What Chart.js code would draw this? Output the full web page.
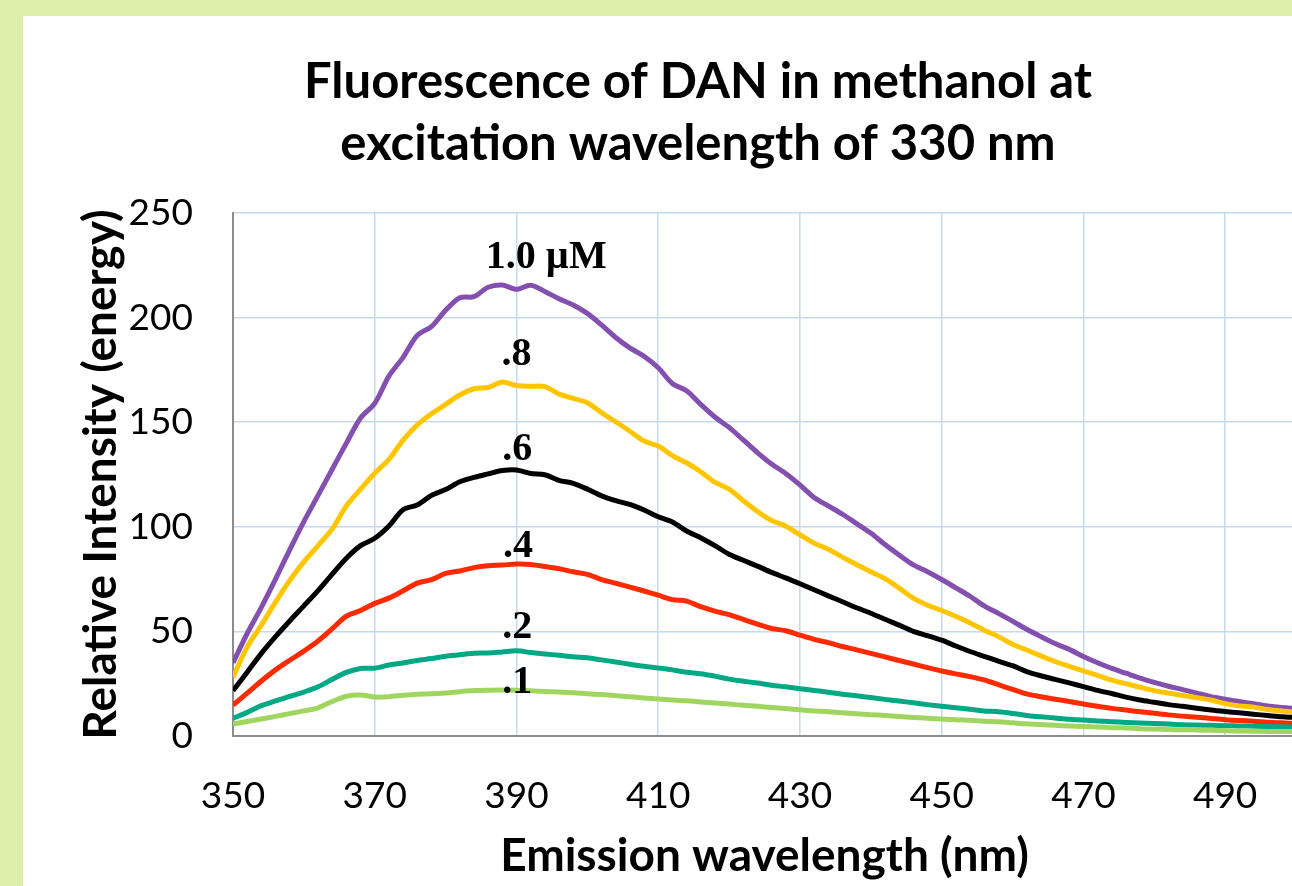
<!DOCTYPE html>
<html>
<head>
<meta charset="utf-8">
<script src="https://cdn.jsdelivr.net/npm/chart.js@4.4.1/dist/chart.umd.min.js"></script>
<style>
  html, body { margin: 0; padding: 0; overflow: hidden; background: #dbeeaa; }
  #wrap { position: absolute; left: 0; top: 0; width: 1396px; height: 886px; }
</style>
</head>
<body>
<div id="wrap"><canvas id="c" width="1396" height="886"></canvas></div>
<script>
// ---------- data ----------
const wavelengths = [
  350,352,354,356,358,360,362,364,366,368,
  370,372,374,376,378,380,382,384,386,388,
  390,392,394,396,398,400,402,404,406,408,
  410,412,414,416,418,420,422,424,426,428,
  430,432,434,436,438,440,442,444,446,448,
  450,452,454,456,458,460,462,464,466,468,
  470,472,474,476,478,480,482,484,486,488,
  490,492,494,496,498,500];

const conc10 = [
  35, 49, 61.5, 75, 89, 102.5, 115, 127.5, 140, 152,
  159, 172, 181, 191.5, 195.7, 203.5, 209.5, 210, 214.5, 215.6,
  213.5, 215.5, 212.5, 209, 206, 202, 196.5, 190.5, 185.5, 181.5,
  176, 168.5, 165, 158.5, 152.5, 147.5, 141.5, 135.5, 130, 125.5,
  120, 114, 110, 106, 101.5, 97, 91.5, 86.5, 81.8, 78.5,
  74.8, 70.8, 66.8, 62.2, 58.6, 54.9, 51, 47.5, 44.2, 41.4,
  38, 35, 32.3, 30, 27.7, 25.6, 23.8, 22.2, 20.5, 18.8,
  17.6, 16.5, 15.4, 14.3, 13.6, 13.2];

const conc08 = [
  28, 42.5, 53, 64, 74.3, 83.2, 91, 99, 110, 118,
  125.6, 132.2, 141.4, 148.7, 154, 158.5, 163, 166, 166.6, 169.2,
  167.5, 167.2, 167, 163.5, 161.4, 159.3, 154.6, 150.2, 145.7, 141,
  138.6, 134, 130.6, 126.3, 121.3, 118, 112.5, 107.3, 103, 100.3,
  96.2, 92.2, 89.3, 85.5, 82, 78.5, 75.2, 70.7, 65.9, 62.5,
  60, 57.2, 54, 50.6, 47.5, 43.9, 41.1, 38.3, 35.6, 33.3,
  31.1, 29, 26.7, 25, 23.3, 21.7, 20.5, 19.4, 18.3, 17.2,
  15.5, 14.4, 13.8, 12.7, 11.9, 11.3];

const conc06 = [
  21.7, 30.5, 39.5, 47.5, 55, 62.2, 69.5, 77.4, 85, 91,
  94.5, 100.4, 108.2, 110.4, 115, 117.8, 121.5, 123.6, 125.3, 126.9,
  127.2, 125.5, 124.9, 122.2, 120.8, 118, 114.8, 112.5, 110.7, 108,
  104.8, 102.3, 98, 94.8, 91, 86.9, 84, 81.2, 78.2, 75.6,
  72.8, 69.9, 67, 64.2, 61.3, 58.7, 55.8, 53, 50, 48,
  45.8, 43, 40.4, 38.1, 35.8, 33.6, 30.8, 28.8, 27.1, 25.4,
  23.6, 21.8, 20.3, 18.6, 17.2, 16.1, 15, 14.2, 13.3, 12.4,
  11.7, 11.1, 10.4, 9.8, 9.2, 8.8];

const conc04 = [
  14.8, 20.5, 26.3, 31.6, 36.2, 40.6, 45.4, 51.3, 57.3, 60,
  63.4, 65.9, 69.4, 73.1, 74.7, 77.7, 78.9, 80.5, 81.4, 81.7,
  82.2, 82, 81, 80, 78.5, 77.3, 74.8, 73, 71.2, 69.3,
  67.3, 65.2, 64.5, 61.8, 59.7, 58, 55.7, 53.5, 51.4, 50.3,
  48.2, 46.2, 44.6, 42.8, 41.2, 39.5, 37.8, 36.1, 34.4, 32.7,
  31.1, 29.7, 28.4, 26.8, 24.5, 22.3, 20.1, 18.8, 17.6, 16.5,
  15.3, 14.2, 13.2, 12.4, 11.6, 10.9, 10.1, 9.5, 9, 8.4,
  7.8, 7.4, 7.1, 6.6, 6.3, 6];

const conc02 = [
  8.4, 11.3, 14.5, 16.8, 18.9, 21, 23.5, 27.1, 30.4, 32.3,
  32.4, 33.9, 34.9, 36.1, 37, 38.1, 38.8, 39.5, 39.7, 40.2,
  40.7, 39.9, 39.2, 38.6, 37.9, 37.4, 36.4, 35.4, 34.3, 33.3,
  32.5, 31.6, 30.5, 29.8, 28.6, 27.2, 26.2, 25.3, 24.3, 23.5,
  22.6, 21.8, 20.9, 20, 19.2, 18.4, 17.5, 16.7, 15.9, 15,
  14.2, 13.5, 12.8, 12, 11.6, 10.8, 9.8, 9.2, 8.6, 8,
  7.6, 7.2, 6.8, 6.5, 6.2, 6, 5.7, 5.4, 5.2, 5.1,
  4.9, 4.8, 4.7, 4.5, 4.4, 4.3];

const conc01 = [
  5.7, 6.9, 8.1, 9.4, 10.7, 12, 13.5, 16.5, 19, 19.6,
  18.6, 18.8, 19.5, 20, 20.2, 20.6, 21.2, 21.7, 21.9, 22,
  21.9, 21.6, 21.3, 21, 20.7, 20.2, 19.8, 19.3, 18.8, 18.2,
  17.7, 17.2, 16.8, 16.3, 15.8, 15.3, 14.7, 14.2, 13.6, 13.1,
  12.5, 12, 11.6, 11.1, 10.6, 10.2, 9.8, 9.3, 8.9, 8.5,
  8.1, 7.8, 7.5, 7.1, 6.8, 6.3, 5.8, 5.5, 5.1, 4.8,
  4.5, 4.3, 4, 3.8, 3.5, 3.3, 3.1, 3, 2.9, 2.7,
  2.5, 2.4, 2.3, 2.2, 2.1, 2.1];

const seriesLabels = ['1.0 µM', '.8', '.6', '.4', '.2', '.1'];
const xTickValues = [350, 370, 390, 410, 430, 450, 470, 490];
const yTickValues = [0, 50, 100, 150, 200, 250];
const titleLines = ['Fluorescence of DAN in methanol at', 'excitation wavelength of 330 nm'];
const xAxisTitle = 'Emission wavelength (nm)';
const yAxisTitle = 'Relative Intensity (energy)';

// ---------- styling / placement (not data) ----------
const seriesColors = ['#8350b0', '#ffc600', '#000000', '#ff2a00', '#00a884', '#a0d660'];
// label anchors in data coordinates (x in nm, y in intensity units; text baseline)
const labelAnchors = [
  {x: 394.2, y: 223.7}, {x: 390.0, y: 177.3}, {x: 390.1, y: 131.9},
  {x: 390.2, y: 85.6}, {x: 390.1, y: 46.8}, {x: 390.1, y: 20.6}
];

const allSeries = [conc10, conc08, conc06, conc04, conc02, conc01];
const datasets = allSeries.map((arr, i) => ({
  label: seriesLabels[i],
  data: arr.map((v, j) => ({x: wavelengths[j], y: v})),
  borderColor: seriesColors[i],
  backgroundColor: seriesColors[i],
  borderWidth: 5,
  pointRadius: 0,
  tension: 0.3,
  fill: false,
  order: 6 - i
}));

const bgPlugin = {
  id: 'bg',
  beforeDraw(chart) {
    const ctx = chart.ctx;
    ctx.save();
    ctx.fillStyle = '#dbeeaa';
    ctx.fillRect(0, 0, chart.width, chart.height);
    ctx.fillStyle = '#ffffff';
    ctx.fillRect(23, 16, chart.width - 23, chart.height - 16);
    ctx.restore();
  }
};

const titlePlugin = {
  id: 'twoLineTitle',
  afterDraw(chart) {
    const ctx = chart.ctx;
    ctx.save();
    ctx.font = 'bold 49px Lato';
    ctx.fillStyle = '#000';
    ctx.textAlign = 'center';
    ctx.textBaseline = 'alphabetic';
    ctx.fillText(titleLines[0], 698, 98);
    ctx.fillText(titleLines[1], 698, 160);
    ctx.restore();
  }
};

const labelPlugin = {
  id: 'seriesLabels',
  afterDatasetsDraw(chart) {
    const ctx = chart.ctx;
    const xs = chart.scales.x, ys = chart.scales.y;
    ctx.save();
    ctx.font = 'bold 40px "Liberation Serif"';
    ctx.fillStyle = '#000';
    ctx.textAlign = 'center';
    ctx.textBaseline = 'alphabetic';
    seriesLabels.forEach((t, i) => {
      ctx.fillText(t, xs.getPixelForValue(labelAnchors[i].x), ys.getPixelForValue(labelAnchors[i].y));
    });
    ctx.restore();
  }
};

new Chart(document.getElementById('c'), {
  type: 'line',
  data: { datasets },
  plugins: [bgPlugin, labelPlugin, titlePlugin],
  options: {
    responsive: false,
    animation: false,
    devicePixelRatio: 1,
    layout: { padding: { left: 0, right: 100, top: 213, bottom: 0 } },
    plugins: {
      legend: { display: false },
      tooltip: { enabled: false },
      title: { display: false }
    },
    scales: {
      x: {
        type: 'linear',
        min: 350, max: 500,
        afterBuildTicks: s => { s.ticks = xTickValues.map(v => ({value: v})); },
        afterFit: s => { s.height = 150; },
        grid: { color: '#c6d9f0', lineWidth: 1.5, drawTicks: false },
        border: { color: '#8c8c8c', width: 2 },
        ticks: { color: '#000', padding: 38, font: { family: 'Lato', size: 37 }, maxRotation: 0 },
        title: {
          display: true, text: xAxisTitle, color: '#000',
          font: { family: 'Lato', size: 46, weight: 'bold', lineHeight: 1.2 },
          padding: { top: 0, bottom: 2 }
        }
      },
      y: {
        type: 'linear',
        min: 0, max: 250,
        afterBuildTicks: s => { s.ticks = yTickValues.map(v => ({value: v})); },
        afterFit: s => { s.width = 233; },
        grid: { color: '#c6d9f0', lineWidth: 1.5, drawTicks: false },
        border: { color: '#8c8c8c', width: 2 },
        ticks: { color: '#000', padding: 40, font: { family: 'Lato', size: 37 } },
        title: {
          display: true, text: yAxisTitle, color: '#000',
          font: { family: 'Lato', size: 46, weight: 'bold', lineHeight: 1.2 },
          padding: { top: 74, bottom: 0 }
        }
      }
    }
  }
});
</script>
</body>
</html>
